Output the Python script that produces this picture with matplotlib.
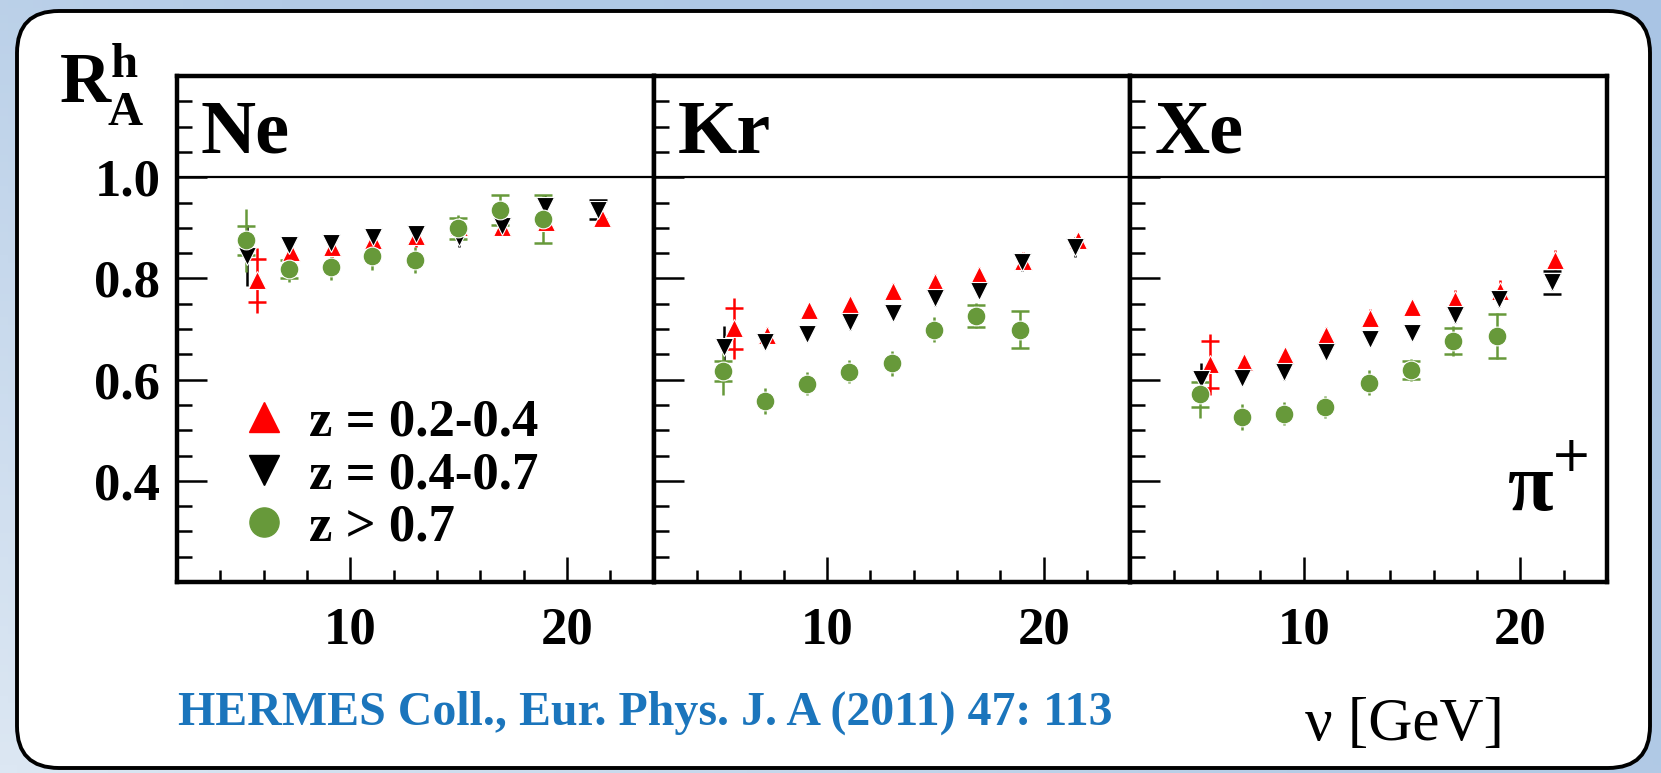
import numpy as np
import matplotlib.pyplot as plt
from matplotlib.lines import Line2D
from matplotlib.patches import FancyBboxPatch
from matplotlib.transforms import IdentityTransform
from matplotlib.colors import LinearSegmentedColormap
from matplotlib.ticker import MultipleLocator, FixedLocator

plt.rcParams['font.family'] = 'Liberation Serif'
plt.rcParams['font.weight'] = 'bold'

nan = np.nan

# nu bin centres [GeV] for each z range
nu_lo = [5.7, 7.25, 9.15, 11.05, 13.05, 15.0, 17.0, 19.05, 21.6]
nu_mid = [5.25, 7.15, 9.1, 11.05, 13.05, 15.0, 17.0, 19.0, 21.45]
nu_hi = [5.2, 7.15, 9.1, 11.0, 13.0, 14.95, 16.9, 18.9]

# Ne
ne_lo = [0.796, 0.852, 0.862, 0.875, 0.884, 0.901, 0.901, 0.911, 0.919]
ne_lo_stat = [0.064, 0.015, 0.022, 0.018, 0.022, 0.015, 0.015, 0.015, 0.015]
ne_lo_sys = [0.043, nan, nan, nan, nan, nan, nan, nan, nan]
ne_mid = [0.845, 0.866, 0.869, 0.881, 0.888, 0.882, 0.904, 0.944, 0.936]
ne_mid_stat = [0.06, 0.015, 0.015, 0.015, 0.015, 0.02, 0.02, 0.02, 0.015]
ne_mid_sys = [nan, nan, nan, nan, nan, nan, nan, nan, 0.018]
ne_hi = [0.875, 0.818, 0.823, 0.844, 0.837, 0.899, 0.935, 0.917]
ne_hi_stat = [0.063, 0.026, 0.027, 0.027, 0.026, 0.026, 0.03, 0.047]
ne_hi_sys = [0.028, 0.018, nan, nan, nan, 0.021, 0.029, 0.047]

# Kr
kr_lo = [0.701, 0.689, 0.737, 0.749, 0.775, 0.793, 0.807, 0.835, 0.875]
kr_lo_stat = [0.06, 0.015, 0.015, 0.015, 0.015, 0.015, 0.015, 0.018, 0.015]
kr_lo_sys = [0.04, nan, nan, nan, nan, nan, nan, nan, nan]
kr_mid = [0.665, 0.675, 0.691, 0.714, 0.732, 0.761, 0.776, 0.832, 0.862]
kr_mid_stat = [0.04, 0.015, 0.015, 0.015, 0.015, 0.015, 0.015, 0.018, 0.02]
kr_mid_sys = [nan, nan, nan, nan, nan, nan, nan, nan, nan]
kr_hi = [0.617, 0.558, 0.592, 0.616, 0.632, 0.699, 0.726, 0.699]
kr_hi_stat = [0.047, 0.025, 0.023, 0.022, 0.024, 0.025, 0.025, 0.037]
kr_hi_sys = [0.02, nan, nan, nan, nan, nan, 0.022, 0.037]

# Xe
xe_lo = [0.630, 0.634, 0.648, 0.688, 0.721, 0.743, 0.758, 0.776, 0.837]
xe_lo_stat = [0.06, 0.015, 0.015, 0.015, 0.018, 0.015, 0.02, 0.02, 0.02]
xe_lo_sys = [0.046, nan, nan, nan, nan, nan, nan, nan, nan]
xe_mid = [0.602, 0.604, 0.615, 0.655, 0.681, 0.693, 0.727, 0.759, 0.792]
xe_mid_stat = [0.03, 0.015, 0.015, 0.015, 0.015, 0.015, 0.015, 0.015, 0.015]
xe_mid_sys = [nan, nan, nan, nan, nan, nan, nan, nan, 0.023]
xe_hi = [0.571, 0.526, 0.533, 0.546, 0.594, 0.619, 0.676, 0.686]
xe_hi_stat = [0.047, 0.025, 0.022, 0.022, 0.024, 0.022, 0.03, 0.045]
xe_hi_sys = [0.025, nan, nan, nan, nan, 0.018, 0.026, 0.043]

targets = ["Ne", "Kr", "Xe"]
legend_labels = ["z = 0.2-0.4", "z = 0.4-0.7", "z > 0.7"]
x_ticks = [10, 20]
y_ticks = [0.4, 0.6, 0.8, 1.0]

RED = "#ff0000"
BLACK = "#000000"
GREEN = "#67993a"
BLUE = "#1b75bc"

panels = {
    "Ne": [(nu_lo, ne_lo, ne_lo_stat, ne_lo_sys),
           (nu_mid, ne_mid, ne_mid_stat, ne_mid_sys),
           (nu_hi, ne_hi, ne_hi_stat, ne_hi_sys)],
    "Kr": [(nu_lo, kr_lo, kr_lo_stat, kr_lo_sys),
           (nu_mid, kr_mid, kr_mid_stat, kr_mid_sys),
           (nu_hi, kr_hi, kr_hi_stat, kr_hi_sys)],
    "Xe": [(nu_lo, xe_lo, xe_lo_stat, xe_lo_sys),
           (nu_mid, xe_mid, xe_mid_stat, xe_mid_sys),
           (nu_hi, xe_hi, xe_hi_stat, xe_hi_sys)],
}
styles = [("^", RED, 13), ("v", BLACK, 13), ("o", GREEN, 13.5)]

W, H = 1661, 773
fig = plt.figure(figsize=(W / 100, H / 100), dpi=100)

# slide background + rounded white card
bg = fig.add_axes([0, 0, 1, 1], zorder=-10)
gx, gy = np.meshgrid(np.linspace(0, 1, 200), np.linspace(0, 1, 100))
grad = 0.6 * gx + 0.4 * (1 - gy)
bg_cmap = LinearSegmentedColormap.from_list("bg", ["#dce7f3", "#b3cbe6", "#a9c4e4"])
bg.imshow(grad, extent=[0, 1, 0, 1], aspect="auto", cmap=bg_cmap, origin="upper")
bg.axis("off")
card = FancyBboxPatch((17, 5), 1633, 757, boxstyle="round,pad=0,rounding_size=42",
                      transform=IdentityTransform(), facecolor="white",
                      edgecolor="black", linewidth=2.8, zorder=-5)
fig.add_artist(card)

axes = fig.subplots(1, 3, sharey=True, gridspec_kw=dict(wspace=0))
fig.subplots_adjust(left=177 / W, right=1607 / W, bottom=(H - 582) / H, top=(H - 76) / H)

for ax, name in zip(axes, targets):
    ax.set_xlim(2, 24)
    ax.set_ylim(0.2, 1.2)
    ax.axhline(1.0, color="black", lw=1.6, zorder=1)
    for (nu, y, stat, sys), (mk, col, ms) in zip(panels[name], styles):
        ax.errorbar(nu, y, yerr=stat, fmt=mk, color=col, ms=ms, mec="white", mew=0.8,
                    elinewidth=1.8, capsize=0, zorder=3)
        caps = ax.errorbar(nu, y, yerr=sys, fmt="none", ecolor=col, capsize=6.5,
                           capthick=1.8, zorder=3)
        caps[2][0].set_visible(False)

    ax.text(0.05, 0.848, name, transform=ax.transAxes, fontsize=55,
            fontweight="bold", va="baseline")

    ax.xaxis.set_major_locator(FixedLocator(x_ticks))
    ax.xaxis.set_minor_locator(MultipleLocator(2))
    ax.yaxis.set_major_locator(FixedLocator(y_ticks))
    ax.yaxis.set_minor_locator(MultipleLocator(0.05))
    ax.tick_params(which="both", direction="in", top=False, right=False, width=1.8,
                   labelsize=38)
    ax.tick_params(axis="y", which="major", length=21.6, pad=12)
    ax.tick_params(axis="x", which="major", length=18, pad=18)
    ax.tick_params(axis="y", which="minor", length=10.8)
    ax.tick_params(axis="x", which="minor", length=8.6)
    for sp in ax.spines.values():
        sp.set_linewidth(3.2)

axes[0].yaxis.set_major_formatter(plt.FormatStrFormatter("%.1f"))

handles = [Line2D([], [], ls="none", marker=mk, color=col, ms=21) for mk, col, _ in styles]
axes[0].legend(handles, legend_labels, loc="upper left", bbox_to_anchor=(0.139, 0.362),
               frameon=False, fontsize=38, handlelength=0.8, handletextpad=0.44,
               labelspacing=0.08, borderpad=0, borderaxespad=0, numpoints=1)

# pi+ tag in the Xe panel
fig.text(1508 / W, (H - 510) / H, "π", fontsize=60, fontweight="bold", va="baseline")
fig.text(1551 / W, (H - 471) / H, "+", fontsize=35, fontweight="normal", va="baseline",
         family="DejaVu Sans")

# y-axis title R^h_A
fig.text(60 / W, (H - 102) / H, "R", fontsize=51, va="baseline")
fig.text(111 / W, (H - 77) / H, "h", fontsize=35, va="baseline")
fig.text(107 / W, (H - 125) / H, "A", fontsize=35, va="baseline")

fig.text(1504 / W, (H - 740) / H, "ν [GeV]", fontsize=44, fontweight="normal",
         ha="right", va="baseline")
fig.text(178 / W, (H - 725) / H, "HERMES Coll., Eur. Phys. J. A (2011) 47: 113",
         fontsize=34.5, color=BLUE, va="baseline")

fig.savefig("out.png", dpi=100)
